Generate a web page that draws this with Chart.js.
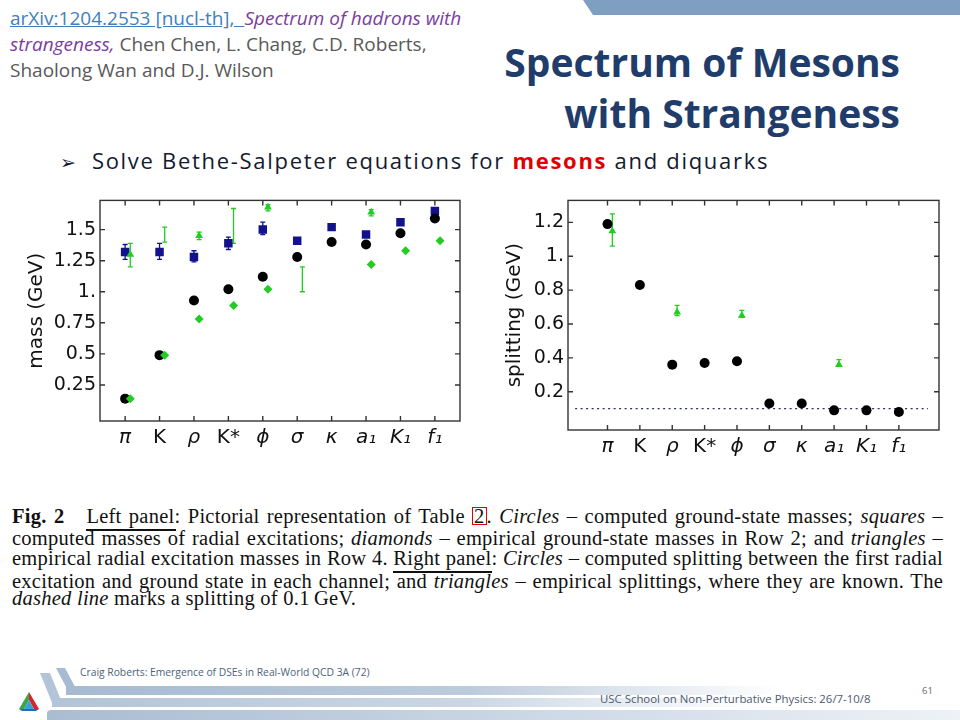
<!DOCTYPE html>
<html>
<head>
<meta charset="utf-8">
<script src="https://cdn.jsdelivr.net/npm/chart.js@4.4.1/dist/chart.umd.min.js"></script>
<style>
  body { margin: 0; background: #fff; }
  #slide { position: relative; width: 960px; height: 720px; overflow: hidden; background: #fff; font-family: "Open Sans", sans-serif; }
  .abs { position: absolute; }
  #banner { left: 583px; top: 0; width: 377px; height: 15px; background: #7f9fc2; clip-path: polygon(0 0, 100% 0, 100% 100%, 10px 100%); }
  #ref { left: 10px; top: 5px; font-size: 19px; line-height: 26px; color: #595959; white-space: nowrap; }
  #ref a { color: #3f7fc0; text-decoration: underline; }
  #ref i { color: #7a3d9e; }
  #title { right: 60px; top: 36px; text-align: right; font-weight: bold; font-size: 39px; line-height: 51px; color: #1f3c6b; white-space: nowrap; }
  #bullet { left: 60px; top: 145px; font-size: 22px; line-height: 30px; letter-spacing: 1.7px; color: #141a30; white-space: nowrap; }
  #bullet .arrow { font-family: "DejaVu Sans", sans-serif; font-size: 19px; margin-right: 16px; letter-spacing: 0; }
  #bullet b { color: #e00000; }
  canvas { position: absolute; }
  .cap { position: absolute; left: 12px; width: 931px; font-family: "Liberation Serif", serif; font-size: 20.5px; letter-spacing: 0.25px; line-height: 20px; color: #111; text-align: justify; text-align-last: justify; }
  .cap.last { text-align: left; text-align-last: left; }
  .box { border: 1px solid #e00000; padding: 0 1px; line-height: 16px; display: inline-block; }
  .ul { position: relative; }
  .ul::after { content: ""; position: absolute; left: 0; right: -1px; bottom: -4px; height: 2px; background: #111; }
  .band { position: absolute; }
  #foot1 { left: 80px; top: 665px; font-size: 10.3px; color: #4d627c; white-space: nowrap; }
  #foot2 { left: 600px; top: 691px; font-size: 11.4px; color: #4d5a70; white-space: nowrap; }
  #pnum { left: 922px; top: 684px; font-size: 9.5px; color: #666; }
</style>
</head>
<body>
<div id="slide">
  <div id="banner" class="abs"></div>
  <div id="ref" class="abs"><a>arXiv:1204.2553 [nucl-th],&nbsp; </a><i>Spectrum of hadrons with</i><br><i>strangeness,</i> Chen Chen, L. Chang, C.D. Roberts,<br>Shaolong Wan and D.J. Wilson</div>
  <div id="title" class="abs">Spectrum of Mesons<br>with Strangeness</div>
  <div id="bullet" class="abs"><span class="arrow">&#x27A2;</span>Solve Bethe-Salpeter equations for <b>mesons</b> and diquarks</div>

  <canvas id="massChart" width="480" height="290" style="left:0;top:185px;width:480px;height:290px"></canvas>
  <canvas id="splitChart" width="480" height="290" style="left:480px;top:185px;width:480px;height:290px"></canvas>

  <div class="cap" style="top:506px"><b>Fig. 2</b>&nbsp;&nbsp; <span class="ul">Left panel</span>: Pictorial representation of Table <span class="box">2</span>. <i>Circles</i> – computed ground-state masses; <i>squares</i> –</div>
  <div class="cap" style="top:528px">computed masses of radial excitations; <i>diamonds</i> – empirical ground-state masses in Row 2; and <i>triangles</i> –</div>
  <div class="cap" style="top:548px">empirical radial excitation masses in Row 4. <span class="ul">Right panel</span>: <i>Circles</i> – computed splitting between the first radial</div>
  <div class="cap" style="top:571px">excitation and ground state in each channel; and <i>triangles</i> – empirical splittings, where they are known. The</div>
  <div class="cap last" style="top:588px"><i>dashed line</i> marks a splitting of 0.1&#8201;GeV.</div>

  <div class="band" style="left:66px;top:686px;width:894px;height:9px;background:linear-gradient(to right,#a6bad1 0%,#bccbdc 45%,rgba(255,255,255,0) 80%)"></div>
  <div class="band" style="left:52px;top:698px;width:908px;height:9px;background:linear-gradient(to right,#b3c4d8 0%,#cad6e4 45%,rgba(255,255,255,0) 78%)"></div>
  <div class="band" style="left:47px;top:710px;width:913px;height:10px;border-radius:4px 0 0 0;background:linear-gradient(to right,#a9bcd2 0%,#c9d6e4 50%,#eef2f7 100%)"></div>
  <div class="band" style="left:56px;top:668px;width:9px;height:24px;background:#a6bad1;transform:skewX(28deg);transform-origin:top left"></div>
  <div class="band" style="left:40px;top:673px;width:10px;height:30px;background:#b3c4d8;transform:skewX(22deg);transform-origin:top left"></div>
  <svg class="abs" style="left:19px;top:692px" width="20" height="19" viewBox="0 0 20 19">
    <polygon points="10,0 0,17 5,17 10,8" fill="#3aa64a"/>
    <polygon points="10,0 20,17 15,17 10,8" fill="#d8242a"/>
    <polygon points="0,17 20,17 17,19 3,19" fill="#1f6fb8"/>
    <polygon points="5,17 10,8 15,17" fill="#3aa0d8"/>
  </svg>
  <div id="foot1" class="abs">Craig Roberts: Emergence of DSEs in Real-World QCD 3A (72)</div>
  <div id="foot2" class="abs">USC School on Non-Perturbative Physics: 26/7-10/8</div>
  <div id="pnum" class="abs">61</div>
</div>

<script>
const categories = ['π', 'K', 'ρ', 'K*', 'ϕ', 'σ', 'κ', 'a₁', 'K₁', 'f₁'];
const italicLabel = [true, false, true, false, true, true, true, true, true, true];

// left panel (GeV)
const groundMass    = [0.14, 0.49, 0.93, 1.02, 1.12, 1.28, 1.40, 1.38, 1.47, 1.59];
const radialMass    = [1.32, 1.32, 1.28, 1.39, 1.50, 1.41, 1.52, 1.46, 1.56, 1.65];
const radialMassLo  = [1.26, 1.26, 1.24, 1.34, 1.46, null, null, null, null, null];
const radialMassHi  = [1.38, 1.39, 1.33, 1.44, 1.56, null, null, null, null, null];
const empGroundMass = [0.14, 0.49, 0.78, 0.89, 1.02, null, null, 1.22, 1.33, 1.41];
const empRadialMass = [1.30, null, 1.45, null, 1.68, null, null, 1.64, null, null];
const empRadialLo   = [1.20, 1.40, 1.42, 1.39, 1.65, 1.00, null, 1.61, null, null];
const empRadialHi   = [1.39, 1.52, 1.48, 1.67, 1.70, 1.20, null, 1.66, null, null];
const massTicks      = [0.25, 0.5, 0.75, 1, 1.25, 1.5];
const massTickLabels = ['0.25', '0.5', '0.75', '1.', '1.25', '1.5'];

// right panel (GeV)
const splitting     = [1.19, 0.83, 0.36, 0.37, 0.38, 0.13, 0.13, 0.09, 0.09, 0.08];
const empSplitting  = [1.15, null, 0.67, null, 0.65, null, null, 0.36, null, null];
const empSplitLo    = [1.06, null, 0.65, null, 0.64, null, null, 0.35, null, null];
const empSplitHi    = [1.25, null, 0.71, null, 0.68, null, null, 0.39, null, null];
const splitTicks      = [0.2, 0.4, 0.6, 0.8, 1, 1.2];
const splitTickLabels = ['0.2', '0.4', '0.6', '0.8', '1.', '1.2'];
const refLineX = [-1, 9.9];
const refLineValue = 0.1;

const GREEN = '#22cc22';
const NAVY = '#12128c';
const SHIFT = 0.15;
const TICK_FONT = "'DejaVu Sans', sans-serif";

function pts(values, shift) {
  return values.map((v, i) => ({ x: i + shift, y: v })).filter(p => p.y != null);
}

const framePlugin = {
  id: 'frame',
  beforeDatasetsDraw(chart, args, opts) {
    const { ctx, scales: { x, y } } = chart;
    (opts.bars || []).forEach(b => {
      ctx.save();
      ctx.strokeStyle = b.color;
      ctx.lineWidth = 1.3;
      b.low.forEach((lo, i) => {
        if (lo == null) return;
        const px = x.getPixelForValue(i + b.shift);
        const p1 = y.getPixelForValue(lo);
        const p2 = y.getPixelForValue(b.high[i]);
        ctx.beginPath();
        ctx.moveTo(px, p1); ctx.lineTo(px, p2);
        ctx.moveTo(px - 2.5, p1); ctx.lineTo(px + 2.5, p1);
        ctx.moveTo(px - 2.5, p2); ctx.lineTo(px + 2.5, p2);
        ctx.stroke();
      });
      ctx.restore();
    });
  },
  afterDraw(chart) {
    const { ctx, chartArea: a, scales: { x, y } } = chart;
    ctx.save();
    ctx.strokeStyle = '#333';
    ctx.lineWidth = 1.4;
    ctx.strokeRect(a.left, a.top, a.right - a.left, a.bottom - a.top);
    ctx.beginPath();
    y.ticks.forEach(t => {
      const py = y.getPixelForValue(t.value);
      ctx.moveTo(a.left, py); ctx.lineTo(a.left + 5, py);
      ctx.moveTo(a.right, py); ctx.lineTo(a.right - 5, py);
    });
    x.ticks.forEach(t => {
      const px = x.getPixelForValue(t.value);
      ctx.moveTo(px, a.bottom); ctx.lineTo(px, a.bottom - 5);
      ctx.moveTo(px, a.top); ctx.lineTo(px, a.top + 5);
    });
    ctx.stroke();
    ctx.restore();
  }
};

function panelOptions(cfg) {
  return {
    responsive: false,
    animation: false,
    layout: { padding: cfg.padding },
    plugins: {
      legend: { display: false },
      tooltip: { enabled: false },
      frame: { bars: cfg.bars }
    },
    scales: {
      x: {
        type: 'linear',
        min: cfg.xMin, max: cfg.xMax,
        grid: { display: false, drawTicks: false },
        border: { display: false },
        afterBuildTicks: s => { s.ticks = categories.map((c, i) => ({ value: i })); },
        afterFit: s => { s.height = cfg.xHeight; },
        ticks: {
          padding: 5,
          color: '#111',
          maxRotation: 0,
          autoSkip: false,
          font: c => ({ family: TICK_FONT, size: 20, style: italicLabel[c.index] ? 'italic' : 'normal' }),
          callback: v => categories[v]
        }
      },
      y: {
        min: cfg.yMin, max: cfg.yMax,
        grid: { display: false, drawTicks: false },
        border: { display: false },
        afterBuildTicks: s => { s.ticks = cfg.ticks.map(v => ({ value: v })); },
        afterFit: s => { s.width = cfg.yWidth; },
        ticks: {
          padding: 4,
          color: '#111',
          font: { family: TICK_FONT, size: 19 },
          callback: (v, i) => cfg.tickLabels[i]
        },
        title: {
          display: true,
          text: cfg.title,
          color: '#111',
          font: { family: TICK_FONT, size: 20 },
          padding: { top: cfg.titlePad, bottom: 0 }
        }
      }
    }
  };
}

new Chart(document.getElementById('massChart'), {
  type: 'scatter',
  data: {
    datasets: [
      { data: pts(empGroundMass, SHIFT), pointStyle: 'rectRot', pointRadius: 4.5, backgroundColor: GREEN, borderColor: GREEN, borderWidth: 0 },
      { data: pts(empRadialMass, SHIFT), pointStyle: 'triangle', pointRadius: 4.5, backgroundColor: GREEN, borderColor: GREEN, borderWidth: 0 },
      { data: pts(groundMass, 0), pointStyle: 'circle', pointRadius: 5, backgroundColor: '#000', borderColor: '#000', borderWidth: 0 },
      { data: pts(radialMass, 0), pointStyle: 'rect', pointRadius: 6, backgroundColor: NAVY, borderColor: NAVY, borderWidth: 0 }
    ]
  },
  options: panelOptions({
    padding: { left: 0, right: 20, top: 13, bottom: 0 },
    xMin: -0.73, xMax: 9.73, xHeight: 54,
    yMin: -0.04, yMax: 1.735, yWidth: 100,
    ticks: massTicks, tickLabels: massTickLabels,
    title: 'mass (GeV)', titlePad: 25,
    bars: [
      { low: radialMassLo, high: radialMassHi, shift: 0, color: NAVY },
      { low: empRadialLo, high: empRadialHi, shift: SHIFT, color: GREEN }
    ]
  }),
  plugins: [framePlugin]
});

new Chart(document.getElementById('splitChart'), {
  type: 'scatter',
  data: {
    datasets: [
      { data: pts(empSplitting, SHIFT), pointStyle: 'triangle', pointRadius: 4.5, backgroundColor: GREEN, borderColor: GREEN, borderWidth: 0 },
      { data: pts(splitting, 0), pointStyle: 'circle', pointRadius: 5, backgroundColor: '#000', borderColor: '#000', borderWidth: 0 },
      { data: refLineX.map(x => ({ x: x, y: refLineValue })), showLine: true, pointRadius: 0, borderColor: '#2a2f6a', borderWidth: 1.2, borderDash: [2, 3.5] }
    ]
  },
  options: panelOptions({
    padding: { left: 0, right: 21, top: 15, bottom: 0 },
    xMin: -1.22, xMax: 10.24, xHeight: 45,
    yMin: -0.026, yMax: 1.33, yWidth: 88,
    ticks: splitTicks, tickLabels: splitTickLabels,
    title: 'splitting (GeV)', titlePad: 23,
    bars: [
      { low: empSplitLo, high: empSplitHi, shift: SHIFT, color: GREEN }
    ]
  }),
  plugins: [framePlugin]
});
</script>
</body>
</html>
